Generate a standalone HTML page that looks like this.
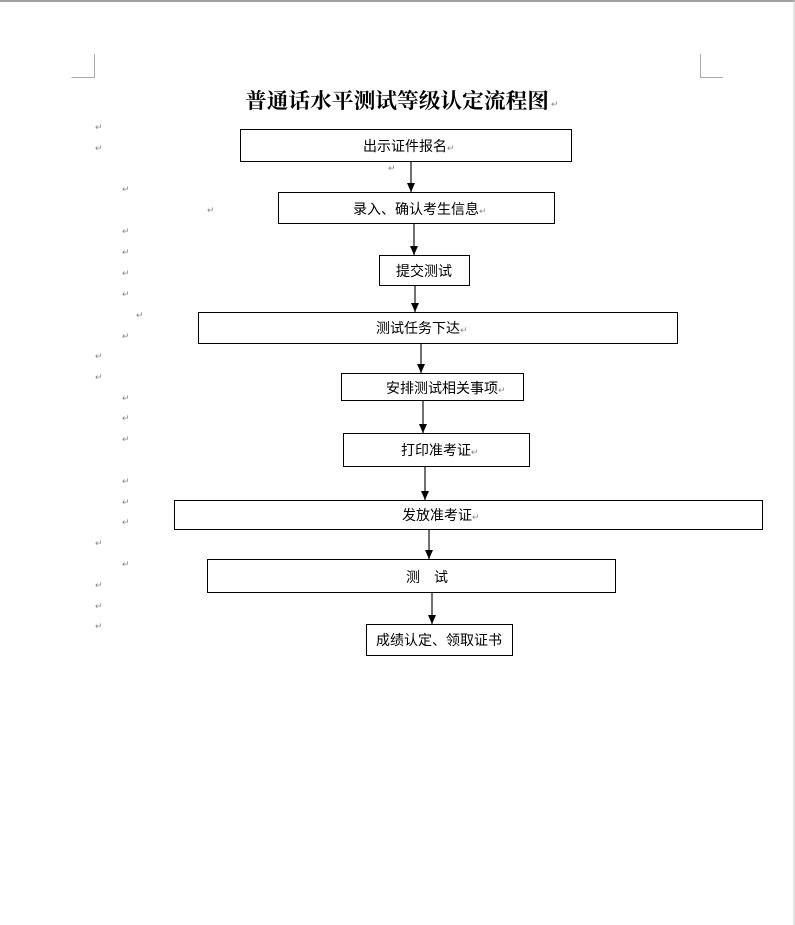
<!DOCTYPE html>
<html><head><meta charset="utf-8"><style>
html,body{margin:0;padding:0;background:#fff;width:795px;height:925px;overflow:hidden}
svg{display:block}
text{font-family:"Liberation Sans","Noto Sans CJK SC",sans-serif;font-size:14px;fill:#000}
.m{font-size:9px;fill:#888}
</style></head><body>
<svg width="795" height="925" viewBox="0 0 795 925">
<defs><marker id="a" markerWidth="9" markerHeight="8" refX="9" refY="4" orient="auto" markerUnits="userSpaceOnUse"><path d="M0,0 L9,4 L0,8 z" fill="#000"/></marker></defs>
<line x1="0" y1="1" x2="795" y2="1" stroke="#a0a0a0" stroke-width="2"/>
<line x1="794" y1="0" x2="794" y2="925" stroke="#c8c8c8" stroke-width="1"/>
<path d="M71.5,77.5 H94.5 V54" fill="none" stroke="#aaa"/>
<path d="M700.5,54 V77.5 H723" fill="none" stroke="#aaa"/>
<text x="245" y="108" textLength="304" lengthAdjust="spacingAndGlyphs" style="font-family:'Liberation Serif','Noto Serif CJK SC',serif;font-size:21px;font-weight:bold">普通话水平测试等级认定流程图</text>
<text x="551" y="107" class="m">↵</text>
<g fill="#fff" stroke="#000" stroke-width="1">
<rect x="240.5" y="129.5" width="331" height="32"/>
<rect x="278.5" y="192.5" width="276" height="31"/>
<rect x="379.5" y="255.5" width="90" height="30"/>
<rect x="198.5" y="312.5" width="479" height="31"/>
<rect x="341.5" y="373.5" width="182" height="27"/>
<rect x="343.5" y="433.5" width="186" height="33"/>
<rect x="174.5" y="500.5" width="588" height="29"/>
<rect x="207.5" y="559.5" width="408" height="33"/>
<rect x="366.5" y="624.5" width="146" height="31"/>
</g>
<g stroke="#222" stroke-width="1.3" marker-end="url(#a)">
<line x1="411" y1="162" x2="411" y2="192"/>
<line x1="414" y1="224" x2="414" y2="255"/>
<line x1="415" y1="286" x2="415" y2="312"/>
<line x1="421" y1="344" x2="421" y2="373"/>
<line x1="423" y1="401" x2="423" y2="433"/>
<line x1="425" y1="467" x2="425" y2="500"/>
<line x1="429" y1="530" x2="429" y2="559"/>
<line x1="432" y1="593" x2="432" y2="624"/>
</g>
<text x="363" y="151">出示证件报名</text><text x="447" y="151" class="m">↵</text>
<text x="353" y="214">录入、确认考生信息</text><text x="479" y="214" class="m">↵</text>
<text x="396" y="276">提交测试</text>
<text x="376" y="333">测试任务下达</text><text x="460" y="333" class="m">↵</text>
<text x="386" y="393">安排测试相关事项</text><text x="498" y="393" class="m">↵</text>
<text x="401" y="455">打印准考证</text><text x="471" y="455" class="m">↵</text>
<text x="402" y="520">发放准考证</text><text x="472" y="520" class="m">↵</text>
<text x="406" y="582" xml:space="preserve">测　试</text>
<text x="376" y="645">成绩认定、领取证书</text>
<g>
<text x="95" y="130" class="m">↵</text><text x="95" y="151" class="m">↵</text>
<text x="388" y="171" class="m">↵</text>
<text x="122" y="192" class="m">↵</text><text x="207" y="213" class="m">↵</text>
<text x="122" y="234" class="m">↵</text><text x="122" y="255" class="m">↵</text>
<text x="122" y="276" class="m">↵</text><text x="122" y="297" class="m">↵</text>
<text x="136" y="318" class="m">↵</text><text x="122" y="339" class="m">↵</text>
<text x="95" y="359" class="m">↵</text><text x="95" y="380" class="m">↵</text>
<text x="122" y="401" class="m">↵</text><text x="122" y="421" class="m">↵</text>
<text x="122" y="442" class="m">↵</text>
<text x="122" y="484" class="m">↵</text><text x="122" y="505" class="m">↵</text>
<text x="122" y="525" class="m">↵</text><text x="95" y="546" class="m">↵</text>
<text x="122" y="567" class="m">↵</text><text x="95" y="588" class="m">↵</text>
<text x="95" y="609" class="m">↵</text><text x="95" y="629" class="m">↵</text>
</g>
</svg>
</body></html>
